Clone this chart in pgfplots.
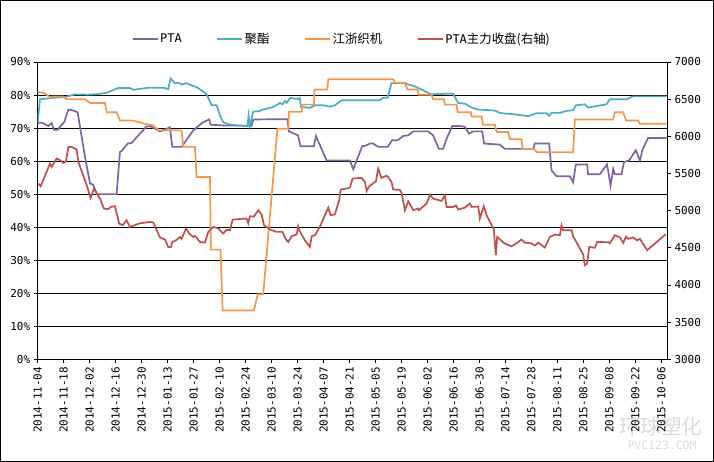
\documentclass[border=0pt]{standalone}
\usepackage{fontspec}
\setmainfont{DejaVu Sans Mono}
\newfontfamily\cjk{Noto Sans CJK SC}[Scale=1.04]
\usepackage{pgfplots}
\pgfplotsset{compat=1.18}
\definecolor{cPTA}{RGB}{128,100,162}
\definecolor{cJZ}{RGB}{75,172,198}
\definecolor{cZJ}{RGB}{247,150,70}
\definecolor{cFut}{RGB}{192,80,77}
\pgfplotsset{
  common/.style={
    at={(37.7bp,102.7bp)}, anchor=south west, scale only axis,
    width=629.3bp, height=297.3bp, xmin=0, xmax=339,
    tick align=outside, major tick length=4bp,
    tick style={black, line width=0.8bp},
    axis line style={black, line width=0.8bp},
    ticklabel style={font=\fontsize{11}{11}\selectfont},
    clip=true,
  },
}
\begin{document}
\begin{tikzpicture}[x=1bp,y=1bp]
\useasboundingbox (0,0) rectangle (714,462);
\draw[line width=0.8bp] (0.6,0.6) rectangle (713.4,461.4);
\node[text=black!14, font=\cjk\fontsize{20}{20}\selectfont, anchor=center] at (661,35) {环球塑化};
\node[text=black!14, font=\fontsize{11.5}{11.5}\selectfont, anchor=center] at (662,17) {PVC123.COM};
\begin{axis}[common,
  axis lines*=left,
  ymin=0, ymax=90,
  ytick={0,10,...,90},
  yticklabels={0\%,10\%,20\%,30\%,40\%,50\%,60\%,70\%,80\%,90\%},
  ymajorgrids, major grid style={black, line width=0.8bp},
  xtick={0,14,...,336},
  xticklabels={2014-11-04,2014-11-18,2014-12-02,2014-12-16,2014-12-30,2015-01-13,2015-01-27,2015-02-10,2015-02-24,2015-03-10,2015-03-24,2015-04-07,2015-04-21,2015-05-05,2015-05-19,2015-06-02,2015-06-16,2015-06-30,2015-07-14,2015-07-28,2015-08-11,2015-08-25,2015-09-08,2015-09-22,2015-10-06},
  xticklabel style={rotate=90, anchor=east},
]
\addplot[cPTA, line width=1.7bp] coordinates {(0,71.6) (2.5,71.6) (5.7,70.6) (7.5,71.5) (8.8,69.5) (10.8,69.5) (12.9,71.0) (14.3,71.8) (16.5,75.6) (18.6,75.4) (21.5,74.8) (25.5,61.2) (28.2,53.2) (29.9,52.9) (31.8,50.0) (42.5,50.0) (44.3,62.7) (45.6,63.3) (48.5,65.3) (50.6,65.5) (54.2,67.8) (58.7,70.5) (60.5,70.6) (63.2,69.8) (65.9,69.0) (69.5,69.8) (71.2,70.2) (72.5,64.3) (77.5,64.3) (83.8,69.3) (86.9,70.8) (89.2,71.8) (92.4,72.6) (93.2,71.0) (99.9,70.8) (115.2,70.7) (116.1,72.6) (134.5,72.7) (135.3,69.0) (140.2,67.8) (141.6,64.5) (148.8,64.5) (149.9,67.6) (155.6,60.2) (168.2,60.2) (170.0,57.5) (171.8,60.2) (174.8,64.5) (176.3,64.6) (178.9,65.3) (180.7,65.3) (183.4,64.3) (188.5,64.3) (190.9,66.3) (193.9,66.3) (196.9,67.6) (199.6,67.8) (202.3,69.0) (210.3,69.0) (213.0,67.8) (216.1,63.7) (218.4,63.7) (220.3,66.8) (223.3,70.6) (227.4,70.6) (230.1,70.4) (232.3,68.3) (234.6,69.0) (239.4,69.0) (240.5,65.3) (248.9,65.0) (251.6,63.7) (266.9,63.7) (267.8,65.3) (275.5,65.3) (276.8,57.2) (279.5,55.4) (286.7,55.4) (288.4,53.6) (289.9,59.0) (296.0,59.0) (296.5,56.0) (302.8,56.0) (306.7,59.0) (308.6,52.6) (310.0,57.6) (310.9,56.0) (314.5,56.0) (315.8,59.7) (318.6,60.2) (322.2,63.3) (324.4,60.2) (325.8,63.5) (328.8,67.0) (338.7,67.0)};
\addplot[cJZ, line width=1.7bp] coordinates {(0,71.6) (1.2,78.7) (9.3,79.2) (14.7,79.4) (20.1,80.2) (27.2,80.1) (32.6,80.3) (37.2,80.7) (38.9,81.1) (43.4,82.1) (49.7,82.1) (51.5,81.6) (59.6,82.2) (67.6,82.2) (70.3,81.8) (71.6,85.0) (73.9,83.6) (76.6,83.6) (77.5,83.2) (80.2,83.6) (82.9,82.9) (85.6,82.4) (89.2,81.0) (91.0,80.2) (93.7,76.9) (96.4,76.9) (98.2,73.8) (99.9,71.8) (103.6,71.0) (113.0,70.6) (113.6,73.8) (114.3,70.6) (116.1,75.0) (119.3,75.1) (120.6,75.5) (126.9,76.4) (130.5,77.6) (131.9,77.2) (133.2,78.2) (134.1,77.6) (135.9,79.1) (140.2,78.8) (141.2,79.1) (141.8,76.4) (146.6,76.1) (149.4,76.9) (153.8,76.9) (157.4,76.5) (160.1,76.9) (163.7,78.4) (184.3,78.4) (186.1,79.2) (188.5,79.2) (190.6,83.6) (197.8,83.6) (199.6,83.2) (203.2,82.6) (205.8,81.9) (209.5,80.9) (212.2,80.2) (214.9,80.3) (223.8,80.4) (226.5,77.6) (230.1,77.4) (233.7,76.2) (237.3,75.6) (246.3,75.3) (248.9,74.6) (251.6,74.4) (257.9,74.1) (264.2,73.6) (268.7,74.5) (274.1,74.5) (275.5,73.7) (276.8,74.6) (281.3,74.6) (284.9,75.2) (288.4,75.4) (289.9,76.9) (294.7,77.2) (296.5,76.2) (306.4,77.2) (308.2,78.7) (317.2,78.7) (320.7,79.6) (338.7,79.6)};
\addplot[cZJ, line width=1.7bp] coordinates {(0,80.9) (3.0,80.7) (6.6,79.4) (8.4,79.6) (13.8,79.6) (15.6,78.7) (25.5,78.7) (28.2,77.6) (36.2,77.6) (37.2,74.8) (42.5,74.8) (44.3,72.3) (50.6,72.3) (59.6,71.1) (62.3,70.8) (65.3,69.3) (77.5,69.3) (78.4,64.3) (84.7,64.3) (85.6,55.2) (92.8,55.2) (93.3,33.2) (98.5,33.2) (99.6,14.8) (116.5,14.8) (118.5,19.7) (121.5,19.7) (129.1,69.8) (135.0,69.8) (135.3,74.9) (142.2,74.9) (142.5,77.1) (148.8,77.1) (149.1,81.7) (156.0,81.7) (156.5,84.8) (191.5,84.8) (192.4,83.7) (197.8,83.7) (199.2,81.7) (204.6,81.7) (205.3,80.1) (212.2,80.1) (213.0,78.7) (218.8,78.7) (219.3,77.1) (225.6,77.1) (226.2,74.8) (233.3,74.8) (233.7,73.5) (239.1,73.5) (239.9,71.0) (246.3,71.0) (247.2,68.8) (253.4,68.8) (254.3,66.6) (260.6,66.6) (261.2,63.7) (266.9,63.7) (269.0,62.7) (288.4,62.7) (289.4,72.6) (310.0,72.6) (310.9,74.8) (315.4,74.8) (316.9,72.3) (323.4,72.3) (324.4,71.3) (338.7,71.3)};
\end{axis}
\begin{axis}[common,
  axis x line=none, axis y line*=right,
  ymin=3000, ymax=7000,
  ytick={3000,3500,...,7000},
  yticklabels={3000,3500,4000,4500,5000,5500,6000,6500,7000},
  legend columns=4,
  legend style={at={(0.4828,1.077)}, anchor=center, draw=none, fill=none,
    font=\fontsize{12}{12}\selectfont, inner sep=0pt,
    nodes={inner xsep=1.5bp, inner ysep=1bp},
    /tikz/every even column/.append style={column sep=33bp}},
  legend image code/.code={\draw[#1] (0bp,0bp) -- (25bp,0bp);},
]
\addlegendimage{draw=cPTA, line width=2bp}\addlegendentry{PTA}
\addlegendimage{draw=cJZ, line width=2bp}\addlegendentry{\cjk 聚酯}
\addlegendimage{draw=cZJ, line width=2bp}\addlegendentry{\cjk 江浙织机}
\addplot[cFut, line width=1.7bp, forget plot] coordinates {(0.3,5364) (1.6,5328) (4.8,5521) (6.6,5633) (7.5,5588) (10.2,5701) (12.0,5680) (13.8,5642) (15.2,5660) (16.5,5857) (18.3,5857) (21.0,5822) (21.9,5655) (26.4,5342) (28.5,5171) (30.3,5297) (33.5,5163) (35.7,5028) (38.0,5020) (39.3,5050) (41.6,5060) (43.9,4826) (45.8,4804) (47.9,4871) (49.7,4781) (55.1,4830) (60.5,4848) (62.3,4840) (65.9,4638) (68.6,4611) (70.3,4512) (71.8,4512) (72.5,4579) (74.5,4600) (76.6,4646) (77.5,4620) (79.9,4759) (81.6,4692) (83.8,4646) (84.7,4660) (87.4,4579) (90.1,4570) (91.9,4714) (94.6,4781) (97.3,4760) (99.9,4692) (101.8,4740) (103.6,4740) (105.0,4880) (112.5,4894) (113.4,4830) (114.3,4925) (116.5,4920) (118.8,5005) (120.6,4950) (121.9,4804) (125.1,4746) (128.7,4714) (131.9,4714) (133.7,4611) (135.0,4579) (136.8,4656) (139.5,4680) (140.3,4790) (141.2,4720) (143.9,4602) (146.6,4512) (147.6,4656) (149.4,4670) (152.0,4781) (156.5,5041) (157.8,4938) (160.1,4950) (162.4,5140) (163.2,5284) (166.4,5297) (168.2,5310) (169.6,5431) (173.6,5440) (174.5,5440) (176.3,5386) (177.2,5265) (178.6,5328) (182.2,5395) (183.4,5566) (185.2,5440) (187.9,5470) (188.5,5460) (190.6,5386) (191.5,5284) (195.1,5280) (196.0,5240) (197.8,5005) (199.6,5126) (202.3,5005) (204.9,5030) (205.3,5005) (209.5,5095) (211.3,5216) (213.0,5163) (217.6,5130) (219.3,5207) (220.3,5050) (223.8,5050) (225.3,5070) (226.5,5015) (230.1,5040) (232.8,5095) (233.7,5050) (237.3,5055) (238.2,4894) (240.3,5059) (241.8,4938) (244.5,4804) (245.7,4750) (246.8,4400) (247.5,4646) (251.6,4557) (255.2,4521) (257.9,4560) (260.6,4611) (262.4,4570) (266.0,4560) (267.8,4530) (269.6,4570) (273.2,4503) (275.9,4646) (278.6,4678) (281.3,4670) (282.2,4804) (283.0,4736) (287.6,4736) (288.4,4656) (292.1,4490) (293.8,4413) (294.7,4265) (296.0,4288) (297.1,4512) (300.1,4500) (301.4,4579) (307.3,4575) (308.2,4560) (310.9,4669) (313.6,4640) (315.4,4566) (316.9,4650) (318.1,4620) (320.7,4640) (322.9,4600) (324.4,4620) (328.3,4467) (338.3,4683)};
\addlegendimage{draw=cFut, line width=2bp}\addlegendentry{PTA{\cjk 主力收盘(右轴)}}
\end{axis}
\end{tikzpicture}
\end{document}
